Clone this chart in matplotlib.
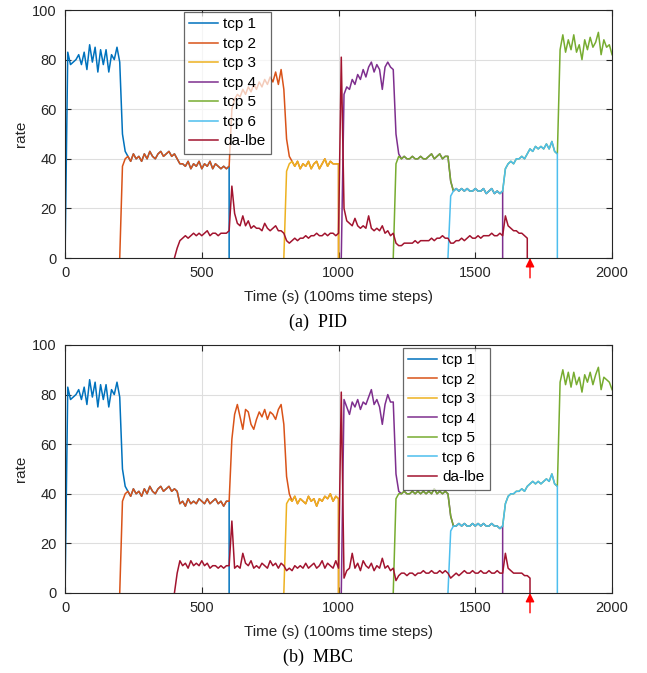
import numpy as np
import matplotlib
matplotlib.use('Agg')
import matplotlib.pyplot as plt

plt.rcParams['font.family'] = ['Liberation Sans', 'DejaVu Sans']

STEP = 10  # seconds between samples

LABELS = ['tcp 1', 'tcp 2', 'tcp 3', 'tcp 4', 'tcp 5', 'tcp 6', 'da-lbe']
COLORS = ['#0072BD', '#D95319', '#EDB120', '#7E2F8E', '#77AC30', '#4DBEEE', '#A2142F']

# flow start / stop times (s)
tcp1_start, tcp1_stop = 0, 600
tcp2_start, tcp2_stop = 200, 1000
tcp3_start, tcp3_stop = 800, 1000
tcp4_start, tcp4_stop = 1010, 1600
tcp5_start = 1200
tcp6_start, tcp6_stop = 1400, 1800
lbe_start = 400
pid_lbe_stop = 1690
mbc_lbe_stop = 1700
lbe_exit = 1700  # marked with the red arrow

# ---------------- PID ----------------
pid_tcp1 = [0, 83, 78, 79, 80, 82, 78, 83, 76, 86,
            79, 85, 75, 84, 78, 84, 75, 82, 80, 85,
            79, 50, 43]
pid_tcp2 = [0, 37, 40, 41, 39, 42, 40, 41, 39, 42,
            40, 43, 41, 40, 42, 43, 41, 42, 43, 41,
            42, 40, 38, 38, 37, 39, 36, 38, 37, 39,
            36, 38, 37, 39, 36, 38, 37, 36, 37, 36,
            37, 60, 64, 66, 65, 68, 66, 69, 67, 70,
            68, 71, 69, 72, 70, 73, 71, 75, 70, 76,
            68, 48, 41]
pid_tcp3 = [0, 35, 38, 39, 37, 39, 36, 38, 37, 39,
            36, 38, 39, 36, 38, 40, 37, 39, 38, 38,
            38]
pid_tcp4 = [0, 66, 69, 68, 72, 70, 74, 72, 76, 73,
            77, 79, 75, 78, 76, 68, 77, 79, 77, 76,
            50, 42]
pid_tcp5_head = [0, 38, 41, 40, 41, 40, 40, 41, 40, 40,
                 41, 40, 40, 41, 42, 40, 41, 42, 40, 41,
                 41, 31]
pid_tcp5_tail = [84, 90, 83, 88, 84, 90, 83, 86, 80, 88,
                 84, 89, 85, 87, 91, 82, 88, 85, 86, 82]
pid_tcp6 = [0, 25, 27, 28, 27, 28, 27, 28, 27, 27,
            28, 27, 27, 28, 26, 27, 28, 26, 27, 26,
            27, 36, 38, 39, 38, 40, 40, 41, 40, 42,
            44, 43, 45, 44, 45, 44, 46, 44, 47, 43,
            42]
pid_lbe = [0, 4, 7, 8, 9, 8, 9, 10, 9, 10,
           9, 10, 11, 9, 10, 10, 9, 10, 10, 10,
           11, 29, 18, 14, 13, 17, 13, 15, 12, 13,
           12, 12, 11, 14, 12, 11, 12, 13, 11, 11,
           10, 7, 6, 7, 8, 7, 8, 8, 9, 8,
           9, 9, 10, 9, 9, 10, 9, 10, 10, 9,
           10, 81, 20, 15, 14, 13, 16, 13, 12, 13,
           12, 17, 12, 11, 12, 11, 13, 10, 11, 9,
           10, 6, 5, 5, 6, 6, 6, 6, 7, 6,
           7, 7, 7, 7, 8, 7, 8, 8, 9, 8,
           8, 6, 6, 7, 7, 8, 7, 8, 9, 8,
           8, 9, 8, 9, 9, 9, 10, 9, 9, 10,
           9, 17, 13, 12, 11, 11, 10, 10, 9, 8]

# ---------------- MBC ----------------
mbc_tcp1 = list(pid_tcp1)  # same as PID before da-lbe joins
mbc_tcp2 = [0, 37, 40, 41, 39, 42, 40, 41, 39, 42,
            40, 43, 41, 40, 42, 43, 41, 42, 43, 41,
            42, 41, 36, 37, 35, 38, 36, 37, 36, 38,
            37, 36, 38, 36, 37, 38, 36, 37, 35, 37,
            37, 62, 72, 76, 71, 66, 74, 73, 68, 66,
            70, 73, 71, 74, 70, 73, 72, 70, 74, 76,
            68, 47, 40]
mbc_tcp3 = [0, 36, 38, 37, 39, 36, 38, 37, 36, 39,
            37, 38, 35, 38, 37, 39, 38, 40, 37, 39,
            38]
mbc_tcp4 = [0, 78, 75, 72, 77, 75, 78, 74, 77, 76,
            79, 82, 76, 78, 75, 68, 76, 80, 77, 77,
            48, 41]
mbc_tcp5_head = [0, 38, 40, 40, 41, 40, 40, 41, 40, 41,
                 40, 41, 40, 41, 40, 42, 40, 41, 40, 41,
                 40, 31]
mbc_tcp5_tail = [85, 90, 84, 89, 83, 89, 84, 87, 81, 88,
                 85, 89, 84, 88, 91, 82, 87, 86, 85, 82]
mbc_tcp6 = [0, 25, 27, 27, 28, 27, 28, 27, 27, 28,
            27, 28, 27, 28, 27, 27, 28, 27, 27, 26,
            27, 36, 39, 40, 40, 41, 41, 42, 41, 43,
            44, 45, 44, 45, 44, 45, 46, 45, 48, 44,
            43]
mbc_lbe = [0, 8, 13, 11, 12, 10, 13, 11, 12, 11,
           13, 11, 12, 10, 11, 11, 10, 11, 10, 11,
           11, 29, 10, 11, 10, 16, 12, 11, 13, 10,
           11, 10, 12, 11, 10, 13, 11, 12, 10, 12,
           11, 9, 10, 9, 11, 10, 11, 10, 12, 10,
           11, 12, 10, 11, 13, 10, 12, 11, 10, 13,
           10, 81, 6, 9, 10, 16, 10, 12, 9, 13,
           11, 10, 12, 9, 11, 10, 14, 10, 11, 9,
           10, 5, 7, 8, 8, 7, 8, 8, 7, 8,
           8, 9, 8, 8, 9, 8, 8, 9, 8, 9,
           8, 6, 7, 8, 7, 8, 9, 8, 8, 9,
           8, 8, 9, 8, 8, 9, 8, 8, 9, 8,
           8, 16, 10, 9, 8, 8, 8, 8, 7, 7,
           6]


def piece(vals, start, t0, t1):
    """samples of a series between t0 and t1 (inclusive)"""
    return list(vals[(t0 - start) // STEP:(t1 - start) // STEP + 1])


def trace(start, vals, stop=None):
    t = start + STEP * np.arange(len(vals))
    v = np.asarray(vals, dtype=float)
    if stop is not None:
        # flow leaves: rate falls straight to zero
        t = np.append(t, stop)
        v = np.append(v, 0.0)
    return t, v


def build(tcp1, tcp2, tcp3, tcp4, tcp5_head, tcp5_tail, tcp6, lbe, lbe_stop):
    # while two flows share the link their traces coincide
    tcp5 = tcp5_head + piece(tcp6, tcp6_start, 1420, tcp6_stop) + tcp5_tail
    full1 = tcp1 + piece(tcp2, tcp2_start, 230, tcp1_stop)
    full2 = tcp2 + piece(tcp3, tcp3_start, 830, tcp2_stop)
    full4 = tcp4 + piece(tcp5, tcp5_start, 1230, tcp4_stop)
    return [
        trace(tcp1_start, full1, tcp1_stop),
        trace(tcp2_start, full2, tcp2_stop),
        trace(tcp3_start, tcp3, tcp3_stop),
        trace(tcp4_start, full4, tcp4_stop),
        trace(tcp5_start, tcp5),
        trace(tcp6_start, tcp6, tcp6_stop),
        trace(lbe_start, lbe, lbe_stop),
    ]


def draw_panel(ax, lines, legend_xy, caption):
    for (t, v), color, label in zip(lines, COLORS, LABELS):
        ax.plot(t, v, color=color, lw=1.1, label=label)

    ax.set_xlim(0, 2000)
    ax.set_ylim(0, 100)
    ax.set_xticks([0, 500, 1000, 1500, 2000])
    ax.set_yticks([0, 20, 40, 60, 80, 100])
    ax.grid(True, color='#dedede', lw=0.8)
    ax.set_axisbelow(True)
    ax.tick_params(direction='in', top=True, right=True, labelsize=10.5,
                   colors='#262626', length=4, width=0.8, pad=6)
    for s in ax.spines.values():
        s.set_color('#262626')
        s.set_linewidth(0.8)
    ax.set_xlabel('Time (s) (100ms time steps)', fontsize=11, color='#262626', labelpad=7)
    ax.set_ylabel('rate', fontsize=11, color='#262626', labelpad=3)

    leg = ax.legend(loc='upper left', bbox_to_anchor=legend_xy, fontsize=11,
                    fancybox=False, framealpha=0.7, edgecolor='#262626',
                    handlelength=1.9, handletextpad=0.3, labelspacing=0.36,
                    borderpad=0.35, borderaxespad=0)
    leg.get_frame().set_linewidth(0.9)

    # time at which da-lbe is switched off
    ax.annotate('', xy=(lbe_exit, 0), xytext=(lbe_exit, -8),
                arrowprops=dict(arrowstyle='-|>', color='red', lw=1.0,
                                mutation_scale=13, shrinkA=0, shrinkB=0),
                annotation_clip=False)

    bbox = ax.get_position()
    ax.figure.text(0.492, bbox.y0 - 0.095, caption, ha='center', va='center',
                   fontsize=13, family='Liberation Serif')


fig = plt.figure(figsize=(6.47, 6.73), dpi=100)
ax1 = fig.add_axes([0.1005, 0.6166, 0.8455, 0.3685])
ax2 = fig.add_axes([0.1005, 0.1189, 0.8455, 0.3685])

pid_lines = build(pid_tcp1, pid_tcp2, pid_tcp3, pid_tcp4, pid_tcp5_head,
                  pid_tcp5_tail, pid_tcp6, pid_lbe, pid_lbe_stop)
mbc_lines = build(mbc_tcp1, mbc_tcp2, mbc_tcp3, mbc_tcp4, mbc_tcp5_head,
                  mbc_tcp5_tail, mbc_tcp6, mbc_lbe, mbc_lbe_stop)

draw_panel(ax1, pid_lines, (0.2175, 0.992), '(a)  PID')
draw_panel(ax2, mbc_lines, (0.618, 0.988), '(b)  MBC')

fig.savefig('out.png', dpi=100)
